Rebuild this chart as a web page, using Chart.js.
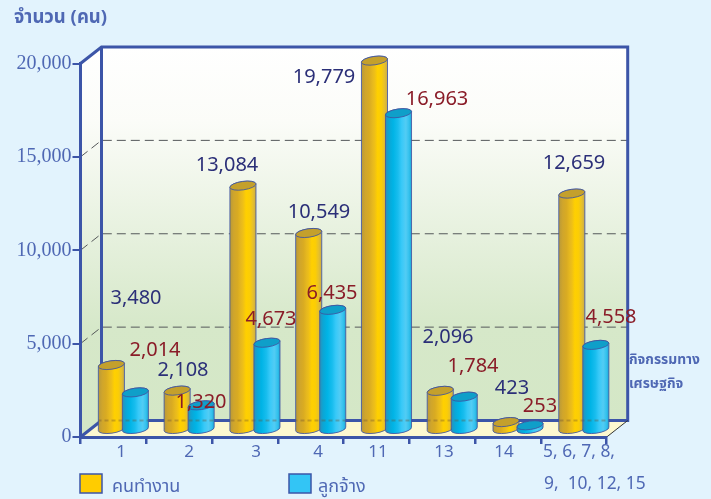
<!DOCTYPE html>
<html>
<head>
<meta charset="utf-8">
<script src="https://cdn.jsdelivr.net/npm/chart.js@4"></script>
<style>
  html, body { margin: 0; padding: 0; background: #e2f3fd; }
  canvas { display: block; }
</style>
</head>
<body>
<canvas id="grafico" width="711" height="499"></canvas>
<script>
const categorias = ["1", "2", "3", "4", "11", "13", "14", "5, 6, 7, 8, 9, 10, 12, 15"];
const ultimaCategoria = ["5, 6, 7, 8,", "9,  10, 12, 15"];
const valoresY = [0, 5000, 10000, 15000, 20000];
const kon = [3480, 2108, 13084, 10549, 19779, 2096, 423, 12659];
const lukjang = [2014, 1320, 4673, 6435, 16963, 1784, 253, 4558];
const nomes = ["คนทำงาน", "ลูกจ้าง"];

// label positions
const tickLabelX = [121, 189, 256, 318, 378, 444, 504];
const konLabelX = [136, 183, 227, 319, 324, 448, 512, 574];
const konLabelY = [298, 370, 165, 212, 77, 337, 388, 163];
const lukjangLabelX = [155, 201, 271, 332, 437, 473, 540, 611];
const lukjangLabelY = [350, 402, 319, 293, 99, 366, 406, 317];

const azul = '#3c55a8';
const azulTexto = '#4f68b4';
const fonteThai = '"Noto Sans Thai", "Noto Sans", "Open Sans", sans-serif';
const fonteValor = '"Noto Sans", "Open Sans", sans-serif';

// depth of the 3D box
const fundoX = 21, fundoY = 16.5;
const barraX = 10, barraY = 7;
const raioB = 4.2, giro = -0.14;
const categoryPct = 0.73, barPct = 1.096;

const paradas = [
    [[0, '#b8993a'], [0.15, '#cfa52c'], [0.3, '#d9ab22'], [0.42, '#e6b81e'], [0.5, '#eebf18'], [0.62, '#ffd000'], [0.76, '#fbcd06'], [0.88, '#e6c02c'], [1, '#c9ab48']],
    [[0, '#2f8fb6'], [0.14, '#0ba6d6'], [0.3, '#00b4e6'], [0.48, '#18bdee'], [0.62, '#38c9f8'], [0.78, '#52ccf4'], [0.9, '#34c2ee'], [1, '#1ca8d4']]
];
const topos = ['#c4a02c', '#0f9fc9'];

const gradienteBarra = (context) => {
    const chart = context.chart;
    const x = chart.scales.x;
    if (!x || context.dataIndex === undefined) return '#ccc';
    const faixa = x.width / categorias.length * categoryPct / 2;
    const largura = faixa * barPct;
    const centro = x.getPixelForValue(context.dataIndex);
    if (!isFinite(centro) || !isFinite(largura)) return '#ccc';
    const meio = context.datasetIndex === 0 ? centro - faixa / 2 : centro + faixa / 2;
    const x0 = meio - largura / 2;
    const g = chart.ctx.createLinearGradient(x0, 0, x0 + largura, 0);
    paradas[context.datasetIndex].forEach(p => g.addColorStop(p[0], p[1]));
    return g;
};

const caixa3d = {
    id: 'caixa3d',
    beforeDraw(chart) {
        const { ctx, chartArea: a } = chart;
        const y = chart.scales.y;
        const parede = ctx.createLinearGradient(0, a.top - fundoY, 0, a.bottom - fundoY);
        parede.addColorStop(0, '#ffffff');
        parede.addColorStop(0.2, '#fbfcf8');
        parede.addColorStop(0.75, '#d6e8c9');
        parede.addColorStop(1, '#d4e7c6');
        ctx.save();
        ctx.fillStyle = parede;
        ctx.fillRect(a.left + fundoX, a.top - fundoY, a.width, a.height);
        ctx.beginPath();
        ctx.moveTo(a.left, a.top);
        ctx.lineTo(a.left + fundoX, a.top - fundoY);
        ctx.lineTo(a.left + fundoX, a.bottom - fundoY);
        ctx.lineTo(a.left, a.bottom);
        ctx.closePath();
        ctx.fill();
        // floor
        ctx.fillStyle = '#fdf8d0';
        ctx.beginPath();
        ctx.moveTo(a.left, a.bottom);
        ctx.lineTo(a.left + fundoX, a.bottom - fundoY);
        ctx.lineTo(a.right + fundoX, a.bottom - fundoY);
        ctx.lineTo(a.right, a.bottom);
        ctx.closePath();
        ctx.fill();
        // dashed grid
        ctx.strokeStyle = '#55585a';
        ctx.lineWidth = 1;
        ctx.setLineDash([9, 5]);
        valoresY.slice(1, -1).forEach(v => {
            const py = y.getPixelForValue(v);
            ctx.beginPath();
            ctx.moveTo(a.left, py);
            ctx.lineTo(a.left + fundoX, py - fundoY);
            ctx.lineTo(a.right + fundoX, py - fundoY);
            ctx.stroke();
        });
        ctx.setLineDash([]);
        // box edges
        ctx.strokeStyle = azul;
        ctx.lineWidth = 3;
        ctx.beginPath();
        ctx.moveTo(a.left, a.top);
        ctx.lineTo(a.left + fundoX, a.top - fundoY);
        ctx.lineTo(a.right + fundoX, a.top - fundoY);
        ctx.lineTo(a.right + fundoX, a.bottom - fundoY);
        ctx.lineTo(a.left + fundoX, a.bottom - fundoY);
        ctx.lineTo(a.left + fundoX, a.top - fundoY);
        ctx.moveTo(a.left + fundoX, a.bottom - fundoY);
        ctx.lineTo(a.left, a.bottom);
        ctx.stroke();
        ctx.strokeStyle = '#333';
        ctx.lineWidth = 1;
        ctx.beginPath();
        ctx.moveTo(a.right, a.bottom);
        ctx.lineTo(a.right + fundoX, a.bottom - fundoY);
        ctx.stroke();
        ctx.restore();
    },
    beforeDatasetDraw() {
        return false; // drawn below so the blue bars end up on top
    },
    afterDatasetsDraw(chart) {
        const { ctx, chartArea: a } = chart;
        [0, 1].forEach(i => {
            const meta = chart.getDatasetMeta(i);
            ctx.save();
            ctx.translate(barraX, -barraY);
            // one outline per cylinder, same winding so the clip is their union
            const contorno = (el) => {
                const r = el.width / 2;
                const dx = r * Math.cos(giro), dy = r * Math.sin(giro);
                ctx.moveTo(el.x - dx, el.y - dy);
                ctx.ellipse(el.x, el.y, r, raioB, giro, Math.PI, Math.PI * 2);
                ctx.lineTo(el.x + dx, el.base + dy);
                ctx.ellipse(el.x, el.base, r, raioB, giro, 0, Math.PI);
                ctx.closePath();
            };
            ctx.save();
            ctx.beginPath();
            meta.data.forEach(contorno);
            ctx.clip();
            meta.data.forEach(el => {
                ctx.fillStyle = el.options.backgroundColor;
                ctx.fillRect(el.x - el.width / 2, el.base - 1, el.width, raioB + 4);
            });
            meta.controller.draw();
            // back floor edge showing faintly through the bars
            ctx.strokeStyle = 'rgba(110,80,50,0.35)';
            ctx.setLineDash([4, 3]);
            ctx.lineWidth = 2;
            ctx.beginPath();
            ctx.moveTo(a.left, a.bottom - fundoY + barraY);
            ctx.lineTo(a.right, a.bottom - fundoY + barraY);
            ctx.stroke();
            ctx.restore();
            ctx.strokeStyle = 'rgba(62,84,160,0.85)';
            ctx.lineWidth = 1;
            meta.data.forEach(el => {
                ctx.beginPath();
                contorno(el);
                ctx.stroke();
                ctx.beginPath();
                ctx.ellipse(el.x, el.y, el.width / 2, raioB, giro, 0, Math.PI * 2);
                ctx.fillStyle = topos[i];
                ctx.fill();
                ctx.stroke();
            });
            ctx.restore();
        });

        // value labels
        ctx.save();
        ctx.textAlign = 'center';
        ctx.textBaseline = 'middle';
        ctx.font = '20px ' + fonteValor;
        ctx.fillStyle = '#2b2f78';
        kon.forEach((v, i) => ctx.fillText(v.toLocaleString('en-US'), konLabelX[i], konLabelY[i]));
        ctx.fillStyle = '#8a1c28';
        lukjang.forEach((v, i) => ctx.fillText(v.toLocaleString('en-US'), lukjangLabelX[i], lukjangLabelY[i]));
        // x tick labels sit off centre in the original
        ctx.font = '17px ' + fonteValor;
        ctx.fillStyle = azulTexto;
        tickLabelX.forEach((px, i) => ctx.fillText(categorias[i], px, 452));
        ctx.restore();

        // titles, long tick label and legend
        ctx.save();
        ctx.textBaseline = 'middle';
        ctx.fillStyle = azulTexto;
        ctx.font = 'bold 18.5px ' + fonteThai;
        ctx.fillText('จำนวน (คน)', 14, 19);
        ctx.font = 'bold 13.8px ' + fonteThai;
        ctx.fillText('กิจกรรมทาง', 629, 361);
        ctx.fillText('เศรษฐกิจ', 629, 385);
        ctx.font = '17.4px ' + fonteValor;
        ctx.fillText(ultimaCategoria[0], 543, 452);
        ctx.fillText(ultimaCategoria[1], 544, 484);
        ctx.font = '18px ' + fonteThai;
        ctx.fillText(nomes[0], 112, 488);
        ctx.fillText(nomes[1], 318, 488);
        ctx.fillStyle = '#ffcc00';
        ctx.strokeStyle = azul;
        ctx.lineWidth = 1.5;
        ctx.fillRect(80, 474, 22, 19);
        ctx.strokeRect(80, 474, 22, 19);
        ctx.fillStyle = '#33c5f5';
        ctx.fillRect(289, 474, 22, 19);
        ctx.strokeRect(289, 474, 22, 19);
        ctx.restore();
    }
};

const createChart = (id) => {
    const ctx = document.getElementById(id);
    new Chart(ctx, {
        type: 'bar',
        data: {
            labels: categorias,
            datasets: [{
                label: nomes[0],
                data: kon,
                backgroundColor: gradienteBarra,
                borderWidth: 0
            }, {
                label: nomes[1],
                data: lukjang,
                backgroundColor: gradienteBarra,
                borderWidth: 0
            }]
        },
        options: {
            responsive: false,
            animation: false,
            categoryPercentage: categoryPct,
            barPercentage: barPct,
            layout: {
                padding: { left: 0, top: 63.5, right: 104.3, bottom: 0 }
            },
            plugins: {
                legend: { display: false },
                tooltip: { enabled: false }
            },
            scales: {
                x: {
                    afterFit: (scale) => { scale.height = 62; },
                    grid: {
                        drawOnChartArea: false,
                        color: azul,
                        lineWidth: 2.5,
                        tickLength: 7
                    },
                    border: { color: azul, width: 3 },
                    ticks: {
                        color: azulTexto,
                        font: { family: '"Noto Sans", "Open Sans", sans-serif', size: 17 },
                        padding: 0,
                        maxRotation: 0,
                        autoSkip: false,
                        callback: () => ''
                    }
                },
                y: {
                    min: 0,
                    max: 20000,
                    afterFit: (scale) => { scale.width = 80.5; },
                    afterBuildTicks: (scale) => { scale.ticks = valoresY.map(v => ({ value: v })); },
                    grid: {
                        drawOnChartArea: false,
                        color: azul,
                        lineWidth: 2,
                        tickLength: 8
                    },
                    border: { color: azul, width: 3 },
                    ticks: {
                        color: azulTexto,
                        font: { family: '"Liberation Serif", serif', size: 20 },
                        padding: 1,
                        callback: (value) => value.toLocaleString('en-US')
                    }
                }
            }
        },
        plugins: [caixa3d]
    });
}

createChart('grafico');
</script>
</body>
</html>
